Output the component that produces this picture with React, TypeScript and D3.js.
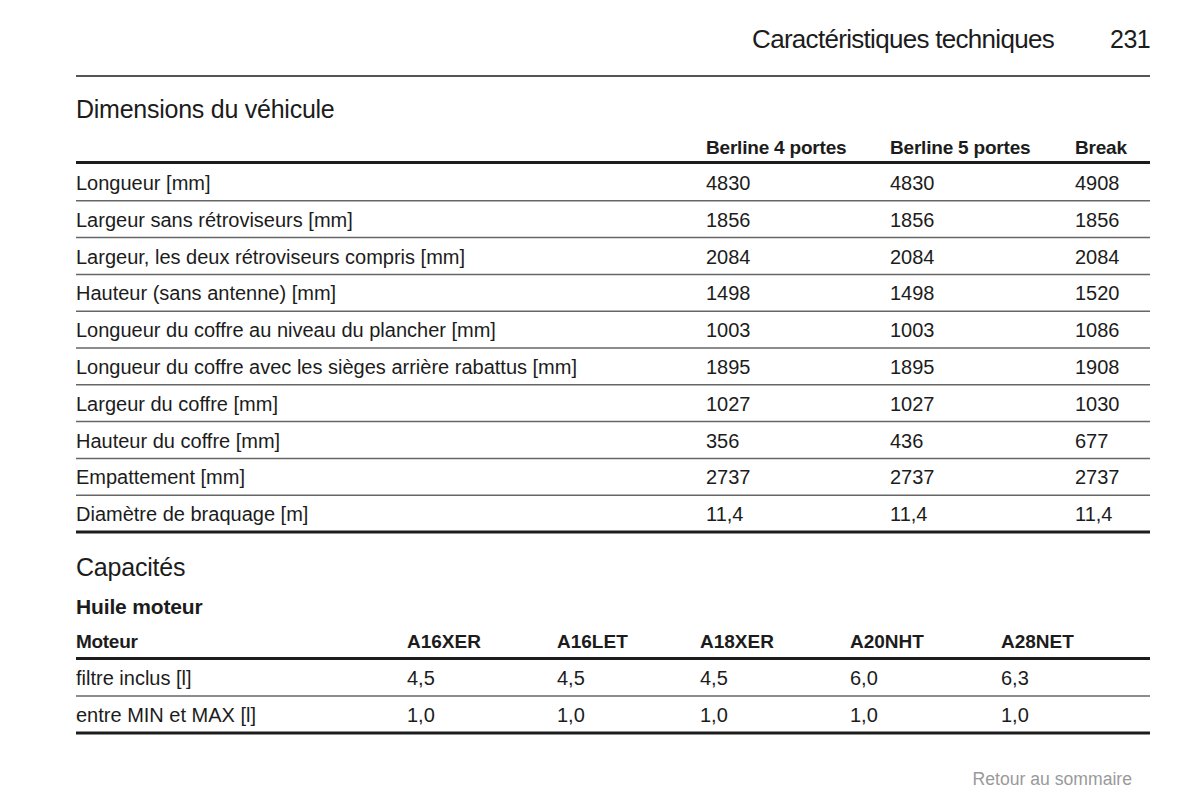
import React from 'react';
import * as d3 from 'd3';

const dimColumns = ['Berline 4 portes', 'Berline 5 portes', 'Break'];
const dimLabels = [
  'Longueur [mm]',
  'Largeur sans rétroviseurs [mm]',
  'Largeur, les deux rétroviseurs compris [mm]',
  'Hauteur (sans antenne) [mm]',
  'Longueur du coffre au niveau du plancher [mm]',
  'Longueur du coffre avec les sièges arrière rabattus [mm]',
  'Largeur du coffre [mm]',
  'Hauteur du coffre [mm]',
  'Empattement [mm]',
  'Diamètre de braquage [m]',
];
const berline4 = ['4830', '1856', '2084', '1498', '1003', '1895', '1027', '356', '2737', '11,4'];
const berline5 = ['4830', '1856', '2084', '1498', '1003', '1895', '1027', '436', '2737', '11,4'];
const breakVals = ['4908', '1856', '2084', '1520', '1086', '1908', '1030', '677', '2737', '11,4'];

const engineColumns = ['A16XER', 'A16LET', 'A18XER', 'A20NHT', 'A28NET'];
const oilLabels = ['filtre inclus [l]', 'entre MIN et MAX [l]'];
const oilValues = [
  ['4,5', '4,5', '4,5', '6,0', '6,3'],
  ['1,0', '1,0', '1,0', '1,0', '1,0'],
];

const W = 1200;
const H = 802;
const left = 76;
const right = 1150;
const font = "'Liberation Sans', Arial, Helvetica, sans-serif";
const ink = '#1c1c1c';

export default function App() {
  const dimRows = d3.scaleBand<string>().domain(dimLabels).range([164, 532]);
  const dimX = d3.scaleOrdinal<string, number>().domain(dimColumns).range([706, 890, 1075]);
  const dimValues = [berline4, berline5, breakVals];

  const oilRows = d3.scaleBand<string>().domain(oilLabels).range([659, 733]);
  const engX = d3.scaleOrdinal<string, number>().domain(engineColumns).range([407, 557, 700, 850, 1001]);

  const body = { fontFamily: font, fontSize: 20, fill: ink, letterSpacing: 0 } as const;
  const head = { fontFamily: font, fontSize: 19, fontWeight: 'bold', fill: ink, letterSpacing: -0.2 } as const;

  return (
    <svg width={W} height={H} style={{ position: 'absolute', left: 0, top: 0, background: '#fff' }}>
      <rect width={W} height={H} fill="#fff" />
      {/* page header */}
      <text x={1054} y={48} textAnchor="end" fontFamily={font} fontSize={26} fill={ink} letterSpacing={-0.7}>
        Caractéristiques techniques
      </text>
      <text x={1150} y={48} textAnchor="end" fontFamily={font} fontSize={25} fill={ink} letterSpacing={-0.6}>231</text>
      <line x1={left} x2={right} y1={76} y2={76} stroke={ink} strokeWidth={1.5} />

      <text x={left} y={118} fontFamily={font} fontSize={25} fill={ink} letterSpacing={-0.25}>Dimensions du véhicule</text>

      {/* dimensions table */}
      {dimColumns.map((c) => (
        <text key={c} x={dimX(c)} y={154} {...head}>{c}</text>
      ))}
      <line x1={left} x2={right} y1={162.5} y2={162.5} stroke={ink} strokeWidth={3} />
      {dimLabels.map((lab, i) => {
        const y0 = dimRows(lab)!;
        const mid = y0 + dimRows.bandwidth() / 2;
        const last = i === dimLabels.length - 1;
        return (
          <g key={lab}>
            <text x={left} y={mid + 7.5} {...body}>{lab}</text>
            {dimColumns.map((c, j) => (
              <text key={c} x={dimX(c)} y={mid + 7.5} {...body}>{dimValues[j][i]}</text>
            ))}
            <line
              x1={left}
              x2={right}
              y1={y0 + dimRows.bandwidth()}
              y2={y0 + dimRows.bandwidth()}
              stroke={last ? ink : '#666'}
              strokeWidth={last ? 3 : 1.5}
            />
          </g>
        );
      })}

      <text x={left} y={576} fontFamily={font} fontSize={25} fill={ink} letterSpacing={-0.2}>Capacités</text>
      <text x={left} y={614} fontFamily={font} fontSize={21} fontWeight="bold" fill={ink} letterSpacing={-0.15}>Huile moteur</text>

      {/* engine oil table */}
      <text x={left} y={648} {...head} letterSpacing={-0.3}>Moteur</text>
      {engineColumns.map((c) => (
        <text key={c} x={engX(c)} y={648} {...head} letterSpacing={0}>{c}</text>
      ))}
      <line x1={left} x2={right} y1={658.5} y2={658.5} stroke={ink} strokeWidth={3} />
      {oilLabels.map((lab, i) => {
        const y0 = oilRows(lab)!;
        const mid = y0 + oilRows.bandwidth() / 2;
        const last = i === oilLabels.length - 1;
        return (
          <g key={lab}>
            <text x={left} y={mid + 7.5} {...body}>{lab}</text>
            {engineColumns.map((c, j) => (
              <text key={c} x={engX(c)} y={mid + 7.5} {...body}>{oilValues[i][j]}</text>
            ))}
            <line
              x1={left}
              x2={right}
              y1={y0 + oilRows.bandwidth()}
              y2={y0 + oilRows.bandwidth()}
              stroke={last ? ink : '#666'}
              strokeWidth={last ? 3 : 1.5}
            />
          </g>
        );
      })}

      <text x={1132} y={785} textAnchor="end" fontFamily={font} fontSize={17.6} fill="#9a9a9a">Retour au sommaire</text>
    </svg>
  );
}
